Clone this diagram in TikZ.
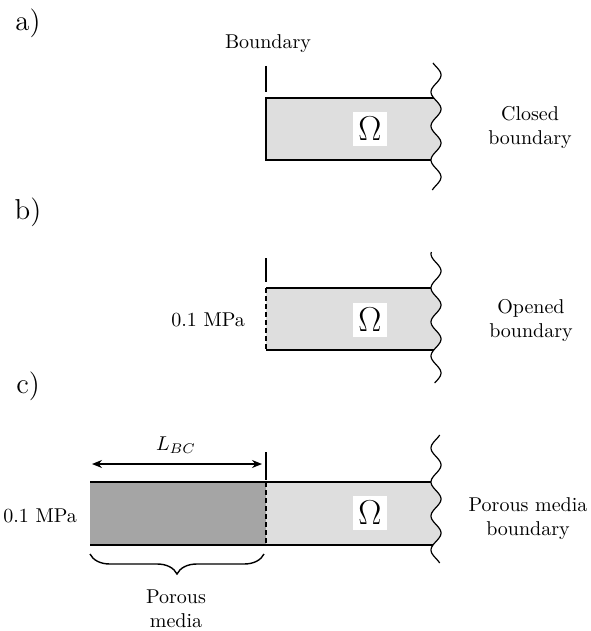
\documentclass[tikz,border=0pt]{standalone}
\usetikzlibrary{decorations.pathreplacing,arrows.meta}
\definecolor{lightfill}{RGB}{222,222,222}
\definecolor{darkfill}{RGB}{165,165,165}
\begin{document}
\begin{tikzpicture}[x=0.5pt,y=-0.5pt,
  edge/.style={line width=0.8pt},
  tick/.style={line width=0.9pt},
  wave/.style={line width=0.6pt},
  omega/.style={fill=white,inner sep=2.5pt,font=\LARGE},
  lbl/.style={font=\Large},
  txt/.style={align=center,font=\normalsize}]
\useasboundingbox (0,0) rectangle (590,631);
% ---------- a) ----------
\node[lbl] (la) at (28,23) {a)};
\node[txt] (bnd) at (268,44) {Boundary};
\coordinate (ta1) at (266,66); \coordinate (ta2) at (266,92);
\draw[tick] (ta1) -- (ta2);
\fill[lightfill] (266,98) -- plot[domain=98:160,variable=\t,samples=40] ({436-5*cos((\t-92)/34*360)},\t) -- (266,160) -- cycle;
\coordinate (a1) at (266,98); \coordinate (a2) at (266,160);
\draw[edge] ({436-5*cos((98-92)/34*360)},98) -- (a1) -- (a2) -- ({436-5*cos((160-92)/34*360)},160);
\draw[wave] plot[domain=63:190,variable=\t,samples=80] ({436-5*cos((\t-92)/34*360)},\t);
\node[omega] (oa) at (370,129) {$\Omega$};
\node[txt] (ca) at (530,127) {Closed\\boundary};
% ---------- b) ----------
\node[lbl] (lb) at (28,212) {b)};
\coordinate (tb1) at (266,258); \coordinate (tb2) at (266,282);
\draw[tick] (tb1) -- (tb2);
\fill[lightfill] (266,288) -- plot[domain=288:350,variable=\t,samples=40] ({436-5*cos((\t-288)/34*360)},\t) -- (266,350) -- cycle;
\coordinate (b1) at (266,288); \coordinate (b2) at (266,350);
\draw[edge] ({436-5*cos((288-288)/34*360)},288) -- (b1);
\draw[edge] (b2) -- ({436-5*cos((350-288)/34*360)},350);
\draw[edge,dashed,dash pattern=on 2.5pt off 1.5pt] (b1) -- (b2);
\draw[wave] plot[domain=252:383,variable=\t,samples=80] ({436-5*cos((\t-288)/34*360)},\t);
\node[omega] (ob) at (370,320) {$\Omega$};
\node[txt,anchor=east] (pb) at (252,320) {0.1 MPa};
\node[txt] (cb) at (531,320) {Opened\\boundary};
% ---------- c) ----------
\node[lbl] (lc) at (28,386) {c)};
\coordinate (tc1) at (266,452); \coordinate (tc2) at (266,480);
\draw[tick] (tc1) -- (tc2);
\fill[lightfill] (266,482) -- plot[domain=482:545,variable=\t,samples=40] ({436-5*cos((\t-482)/34*360)},\t) -- (266,545) -- cycle;
\fill[darkfill] (90,482) rectangle (266,545);
\coordinate (c0a) at (90,482); \coordinate (c0b) at (90,545);
\coordinate (c1) at (266,482); \coordinate (c2) at (266,545);
\draw[edge] (c0a) -- ({436-5*cos((482-482)/34*360)},482);
\draw[edge] (c0b) -- ({436-5*cos((545-482)/34*360)},545);
\draw[edge,dashed,dash pattern=on 2.5pt off 1.5pt] (c1) -- (c2);
\draw[wave] plot[domain=435:563,variable=\t,samples=80] ({436-5*cos((\t-482)/34*360)},\t);
\node[omega] (oc) at (370,513) {$\Omega$};
\node[txt,anchor=east] (pc) at (84,516) {0.1 MPa};
\node[txt] (cc) at (528,519) {Porous media\\boundary};
\coordinate (ar1) at (92,464); \coordinate (ar2) at (262,464);
\draw[line width=0.7pt,{Stealth[length=5pt,width=4pt]}-{Stealth[length=5pt,width=4pt]}] (ar1) -- (ar2);
\node[txt] (lbc) at (176,445) {$L_{BC}$};
\coordinate (br1) at (90,554); \coordinate (br2) at (264,554);
\draw[line width=0.7pt,decorate,decoration={brace,mirror,amplitude=10pt}] (br1) -- (br2);
\node[txt] (pm) at (176,609) {Porous\\media};
\end{tikzpicture}
\end{document}
